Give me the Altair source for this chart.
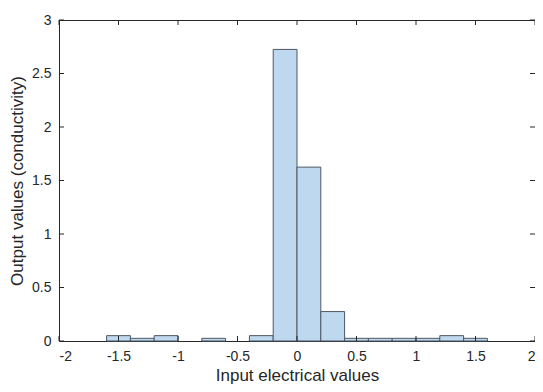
import altair as alt
import pandas as pd

# Histogram (pdf-normalised), bin width 0.2
bin_left = [-1.6, -1.4, -1.2, -0.8, -0.4, -0.2, 0.0, 0.2, 0.4, 0.6, 0.8, 1.0, 1.2, 1.4]
bin_right = [-1.4, -1.2, -1.0, -0.6, -0.2, 0.0, 0.2, 0.4, 0.6, 0.8, 1.0, 1.2, 1.4, 1.6]
density = [0.05, 0.025, 0.05, 0.025, 0.05, 2.725, 1.625, 0.275,
           0.025, 0.025, 0.025, 0.025, 0.05, 0.025]
baseline = [0.0] * len(density)

x_ticks = [-2, -1.5, -1, -0.5, 0, 0.5, 1, 1.5, 2]
y_ticks = [0, 0.5, 1, 1.5, 2, 2.5, 3]

W, H = 476, 321
FONT = "Liberation Sans"
AX = "#262626"

bars_df = pd.DataFrame({"x0": bin_left, "x1": bin_right, "v": density, "b": baseline})
xt_df = pd.DataFrame({"t": x_ticks})
yt_df = pd.DataFrame({"t": y_ticks})

xscale = alt.Scale(domain=[-2, 2], nice=False, zero=False, padding=0)
yscale = alt.Scale(domain=[0, 3], nice=False, zero=False, padding=0)

bars = alt.Chart(bars_df).mark_rect(
    fill="#bed8f0", stroke="#4d5864", strokeWidth=1
).encode(
    x=alt.X("x0:Q", scale=xscale,
            axis=alt.Axis(values=x_ticks, title="Input electrical values",
                          ticks=False, domain=False, grid=False,
                          labelPadding=8, titleBaseline="alphabetic", titleY=39,
                          labelExpr="datum.value")),
    x2="x1:Q",
    y=alt.Y("v:Q", scale=yscale,
            axis=alt.Axis(values=y_ticks, title="Output values (conductivity)",
                          ticks=False, domain=False, grid=False,
                          labelPadding=8, titlePadding=5,
                          labelExpr="datum.value")),
    y2="b:Q",
)

tick_len = 5
xb = alt.Chart(xt_df).mark_rule(color=AX, strokeWidth=1).encode(
    x=alt.X("t:Q", scale=xscale), y=alt.value(H), y2=alt.value(H - tick_len))
xtp = alt.Chart(xt_df).mark_rule(color=AX, strokeWidth=1).encode(
    x=alt.X("t:Q", scale=xscale), y=alt.value(0), y2=alt.value(tick_len))
yl = alt.Chart(yt_df).mark_rule(color=AX, strokeWidth=1).encode(
    y=alt.Y("t:Q", scale=yscale), x=alt.value(0), x2=alt.value(tick_len))
yr = alt.Chart(yt_df).mark_rule(color=AX, strokeWidth=1).encode(
    y=alt.Y("t:Q", scale=yscale), x=alt.value(W), x2=alt.value(W - tick_len))

chart = alt.layer(bars, xb, xtp, yl, yr).properties(
    width=W, height=H,
    autosize=alt.AutoSizeParams(type="none"),
    padding={"left": 51, "top": 12, "right": 0, "bottom": 43},
    background="white",
).configure_view(
    stroke=AX, strokeWidth=1
).configure_axis(
    labelFont=FONT, titleFont=FONT, labelFontSize=14, titleFontSize=17,
    labelColor=AX, titleColor=AX, titleFontWeight="normal",
)

chart.save("out.html", embed_options={"renderer": "svg", "actions": False})
